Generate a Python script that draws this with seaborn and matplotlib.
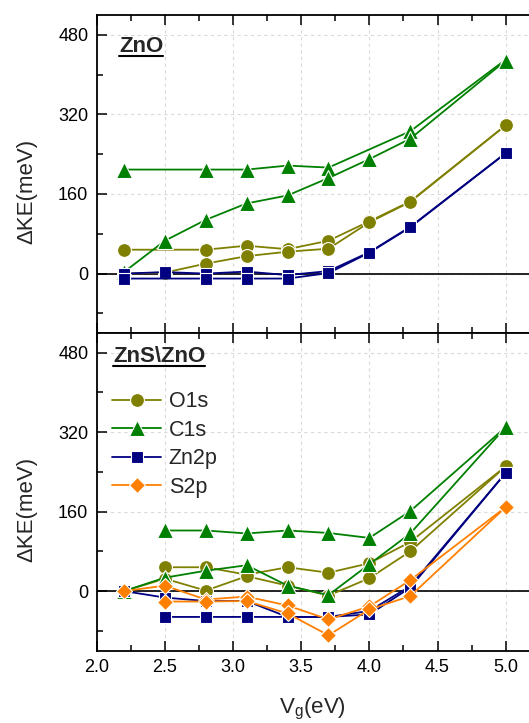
import matplotlib
matplotlib.use("Agg")
import matplotlib.pyplot as plt
import seaborn as sns
import pandas as pd
from matplotlib.ticker import MultipleLocator
from matplotlib.lines import Line2D

# ---------------- data ----------------
# ZnO panel
zno_o1s_a_x = [2.2, 2.8, 3.1, 3.4, 3.7, 4.0, 4.3, 5.0]
zno_o1s_a_y = [48, 48, 56, 49, 66, 105, 145, 298]
zno_o1s_b_x = [2.2, 2.5, 2.8, 3.1, 3.4, 3.7, 4.0, 4.3, 5.0]
zno_o1s_b_y = [0, 2, 20, 35, 44, 50, 103, 144, 298]

zno_c1s_a_x = [2.2, 2.8, 3.1, 3.4, 3.7, 4.3, 5.0]
zno_c1s_a_y = [209, 209, 209, 217, 213, 286, 430]
zno_c1s_b_x = [2.2, 2.5, 2.8, 3.1, 3.4, 3.7, 4.0, 4.3, 5.0]
zno_c1s_b_y = [3, 66, 108, 141, 157, 192, 230, 271, 428]

zno_zn2p_a_x = [2.2, 2.5, 2.8, 3.1, 3.4, 3.7, 4.0, 4.3, 5.0]
zno_zn2p_a_y = [0, 3, 0, 4, -3, 5, 43, 94, 242]
zno_zn2p_b_x = [2.2, 2.8, 3.1, 3.4, 3.7, 4.0, 4.3, 5.0]
zno_zn2p_b_y = [-10, -10, -10, -10, 1, 42, 93, 242]

# ZnS\ZnO panel
zns_o1s_a_x = [2.5, 2.8, 3.1, 3.4, 3.7, 4.0, 4.3, 5.0]
zns_o1s_a_y = [48, 48, 33, 48, 37, 56, 99, 251]
zns_o1s_b_x = [2.2, 2.5, 2.8, 3.1, 3.4, 3.7, 4.0, 4.3, 5.0]
zns_o1s_b_y = [0, 25, 1, 30, 11, -9, 26, 80, 251]

zns_c1s_a_x = [2.5, 2.8, 3.1, 3.4, 3.7, 4.0, 4.3, 5.0]
zns_c1s_a_y = [122, 122, 116, 122, 117, 107, 161, 330]
zns_c1s_b_x = [2.2, 2.5, 2.8, 3.1, 3.4, 3.7, 4.0, 4.3, 5.0]
zns_c1s_b_y = [0, 27, 41, 52, 11, -8, 54, 116, 330]

zns_zn2p_a_x = [2.2, 2.5, 2.8, 3.1, 3.4, 3.7, 4.0, 4.3, 5.0]
zns_zn2p_a_y = [0, -13, -20, -20, -52, -52, -40, 10, 238]
zns_zn2p_b_x = [2.5, 2.8, 3.1, 3.4, 3.7, 4.0, 4.3, 5.0]
zns_zn2p_b_y = [-52, -52, -52, -52, -52, -47, 7, 238]

zns_s2p_a_x = [2.2, 2.5, 2.8, 3.1, 3.4, 3.7, 4.0, 4.3, 5.0]
zns_s2p_a_y = [0, 11, -17, -11, -29, -57, -31, 22, 169]
zns_s2p_b_x = [2.5, 2.8, 3.1, 3.4, 3.7, 4.0, 4.3, 5.0]
zns_s2p_b_y = [-21, -21, -20, -45, -89, -37, -10, 169]

labels = ["O1s", "C1s", "Zn2p", "S2p"]
colors = {"O1s": "#808000", "C1s": "#008000", "Zn2p": "#000080", "S2p": "#FF8000"}
markers = {"O1s": "o", "C1s": "^", "Zn2p": "s", "S2p": "D"}
msizes = {"O1s": 10, "C1s": 11, "Zn2p": 9, "S2p": 8.5}

y_ticks = [0, 160, 320, 480]
x_ticks = [2.0, 2.5, 3.0, 3.5, 4.0, 4.5, 5.0]

# ---------------- style ----------------
sns.set_theme(style="ticks")
plt.rcParams["font.family"] = ["Liberation Sans", "DejaVu Sans"]
plt.rcParams["axes.unicode_minus"] = False

fig = plt.figure(figsize=(5.29, 7.23), dpi=100)
left, width = 96.7 / 529, 1 - 96.7 / 529
ax_top = fig.add_axes([left, 1 - 333.3 / 723, width, (333.3 - 15.3) / 723])
ax_bot = fig.add_axes([left, 1 - 650.7 / 723, width, (650.7 - 333.3) / 723])


def draw(ax, name, xs, ys):
    df = pd.DataFrame({"x": xs, "y": ys})
    sns.lineplot(data=df, x="x", y="y", ax=ax, sort=False, estimator=None,
                 color=colors[name], marker=markers[name], markersize=msizes[name],
                 markeredgecolor="white", markeredgewidth=0.8, linewidth=1.3,
                 zorder=3)


top_series = [
    ("O1s", zno_o1s_a_x, zno_o1s_a_y), ("O1s", zno_o1s_b_x, zno_o1s_b_y),
    ("C1s", zno_c1s_a_x, zno_c1s_a_y), ("C1s", zno_c1s_b_x, zno_c1s_b_y),
    ("Zn2p", zno_zn2p_a_x, zno_zn2p_a_y), ("Zn2p", zno_zn2p_b_x, zno_zn2p_b_y),
]
bot_series = [
    ("O1s", zns_o1s_a_x, zns_o1s_a_y), ("O1s", zns_o1s_b_x, zns_o1s_b_y),
    ("C1s", zns_c1s_a_x, zns_c1s_a_y), ("C1s", zns_c1s_b_x, zns_c1s_b_y),
    ("Zn2p", zns_zn2p_a_x, zns_zn2p_a_y), ("Zn2p", zns_zn2p_b_x, zns_zn2p_b_y),
    ("S2p", zns_s2p_a_x, zns_s2p_a_y), ("S2p", zns_s2p_b_x, zns_s2p_b_y),
]

for ax, series in ((ax_top, top_series), (ax_bot, bot_series)):
    for name, xs, ys in series:
        draw(ax, name, xs, ys)
    ax.axhline(0, color="black", lw=1.2, zorder=2)
    ax.set_xlim(2.0, 2.0 + (529 - 96.7) / 136.33)
    ax.set_ylim(-120, 519)
    ax.set_xticks(x_ticks)
    ax.set_yticks(y_ticks)
    ax.xaxis.set_minor_locator(MultipleLocator(0.25))
    ax.yaxis.set_minor_locator(MultipleLocator(80))
    ax.grid(True, which="major", ls=(0, (3, 3)), color="#dadada", lw=0.8, zorder=0)
    ax.tick_params(which="both", direction="in", top=True, right=False,
                   labelsize=13, colors="black", width=1.1, pad=6)
    ax.tick_params(which="major", length=7)
    ax.tick_params(which="minor", length=4)
    for s in ax.spines.values():
        s.set_linewidth(1.3)
        s.set_color("black")
    ax.spines["right"].set_visible(False)
    ax.set_ylabel("ΔKE(meV)", fontsize=16)
    ax.yaxis.set_label_coords(-0.138, 0.445)
    ax.set_facecolor("white")

ax_top.set_xlabel("")
ax_top.tick_params(labelbottom=False)
ax_bot.set_xlabel("V$_\\mathregular{g}$(eV)", fontsize=16, labelpad=14)

t1 = ax_top.text(0.052, 0.902, "ZnO", transform=ax_top.transAxes, fontsize=16,
                 fontweight="bold", va="center", ha="left")
t2 = ax_bot.text(0.038, 0.926, "ZnS\\ZnO", transform=ax_bot.transAxes, fontsize=16,
                 fontweight="bold", va="center", ha="left")

handles = [Line2D([], [], color=colors[n], marker=markers[n], markersize=msizes[n],
                  markeredgecolor="white", markeredgewidth=0.8, lw=1.3) for n in labels]
ax_bot.legend(handles, labels, loc="upper left", bbox_to_anchor=(0.0, 0.865),
              frameon=False, fontsize=15.5, handlelength=2.3, handletextpad=0.35,
              labelspacing=0.35, borderaxespad=0.3)

fig.canvas.draw()
inv = fig.transFigure.inverted()
for t in (t1, t2):
    bb = t.get_window_extent()
    (x0, y0), (x1, _) = inv.transform([(bb.x0, bb.y0 + 1), (bb.x1, bb.y0)])
    fig.add_artist(Line2D([x0, x1], [y0, y0], color="black", lw=1.5,
                          transform=fig.transFigure))

fig.savefig("out.png", dpi=100, facecolor="white")
